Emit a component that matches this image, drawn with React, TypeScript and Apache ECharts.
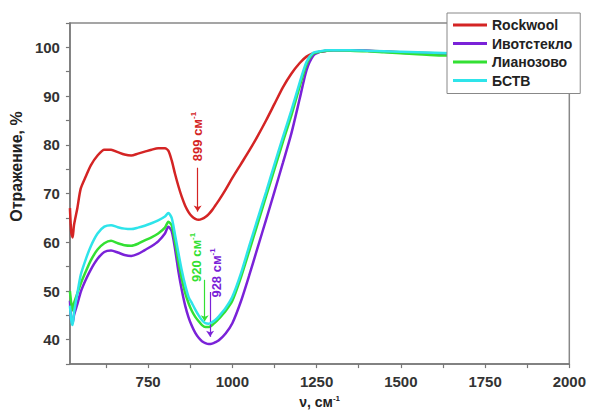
import React, { useEffect, useRef } from "react";
import * as echarts from "echarts";

const wavenumbers = [518, 522, 526, 530, 540, 550, 565, 580, 600, 620, 640, 660, 680, 700, 720, 740, 760, 780, 800, 810, 820, 830, 840, 850, 860, 870, 880, 890, 900, 910, 920, 930, 940, 950, 960, 980, 1000, 1025, 1050, 1075, 1100, 1125, 1150, 1175, 1200, 1220, 1240, 1260, 1280, 1300, 1350, 1400, 1450, 1500, 1550, 1600, 1650, 1700, 1750, 1800, 1850, 1900, 1950, 2000];

const rockwool = [67, 62, 61, 63.5, 67, 71, 73.5, 75.8, 77.8, 79, 79, 78.5, 78, 77.8, 78.2, 78.6, 79, 79.3, 79.3, 78.8, 76.8, 74, 71.5, 69.3, 67.5, 66.2, 65.3, 64.8, 64.6, 64.8, 65.2, 65.8, 66.6, 67.6, 68.6, 70.8, 73.2, 76, 78.8, 81.8, 85, 88.4, 91.8, 94.6, 96.8, 98.1, 98.8, 99.1, 99.3, 99.4, 99.4, 99.3, 99.2, 99.0, 98.9, 98.8, 98.7, 98.6, 98.6, 98.5, 98.5, 98.4, 98.4, 98.4];

const ivotsteklo = [48, 44, 43.5, 45, 47.3, 49.8, 52.3, 54.4, 56.6, 58, 58.3, 57.9, 57.4, 57.2, 57.6, 58.4, 59.2, 60.2, 61.8, 63.2, 62.3, 58.6, 54, 50.2, 47, 44.6, 42.8, 41.4, 40.4, 39.7, 39.3, 39.1, 39.2, 39.5, 39.9, 41.3, 43.4, 47.8, 53.2, 58.9, 64.6, 70.4, 76.3, 82.3, 89.5, 95.3, 98.3, 99.1, 99.3, 99.4, 99.4, 99.3, 99.1, 98.9, 98.8, 98.7, 98.6, 98.5, 98.5, 98.4, 98.4, 98.3, 98.3, 98.3];

const lianozovo = [50, 47.5, 46, 47.5, 49.5, 51.5, 54, 56.3, 58.5, 59.8, 60.3, 59.8, 59.4, 59.3, 59.7, 60.4, 61, 61.8, 63, 64.2, 63.5, 60, 56, 52.5, 49.6, 47.5, 45.9, 44.7, 43.8, 43, 42.6, 42.6, 43, 43.6, 44.3, 45.9, 48, 52.7, 58.2, 63.8, 69.4, 75, 80.6, 86, 92, 96.5, 98.7, 99.1, 99.3, 99.4, 99.3, 99.2, 99.0, 98.8, 98.6, 98.4, 98.3, 98.2, 98.2, 98.1, 98.1, 98.0, 98.0, 98.0];

const bstv = [47, 44, 43, 45.5, 49.5, 53.3, 56.5, 59.2, 61.8, 63.2, 63.5, 63.1, 62.8, 62.7, 63, 63.4, 63.9, 64.5, 65.3, 66, 65, 61.5, 57.8, 54.2, 51.2, 48.8, 47.5, 46.2, 45, 44, 43.4, 43.3, 43.6, 44.1, 44.8, 46.5, 48.8, 53.5, 59.2, 64.8, 70.3, 76, 81.6, 87, 92.8, 97, 98.9, 99.2, 99.4, 99.4, 99.4, 99.3, 99.2, 99.1, 99.0, 98.9, 98.8, 98.7, 98.7, 98.6, 98.6, 98.5, 98.5, 98.5];

const seriesNames = ["Rockwool", "Ивотстекло", "Лианозово", "БСТВ"];
const seriesColors = ["#d42424", "#7a22d8", "#33e033", "#2ee4ea"];

const xLabelValues = [750, 1000, 1250, 1500, 1750, 2000];
const xTickValues = [625, 750, 875, 1000, 1125, 1250, 1375, 1500, 1625, 1750, 1875, 2000];
const yLabelValues = [40, 50, 60, 70, 80, 90, 100];
const yTickValues = [35, 40, 45, 50, 55, 60, 65, 70, 75, 80, 85, 90, 95, 100, 105];

const peakLabels = ["899", "928", "920"];
const annotations = [
  { s: 0, text: peakLabels[0], lx: 896, ly: 81.7, ax: 897, a0: 75.3, a1: 66.3 },
  { s: 1, text: peakLabels[1], lx: 954, ly: 53.7, ax: 934, a0: 49.8, a1: 40.6 },
  { s: 2, text: peakLabels[2], lx: 893, ly: 56.9, ax: 918, a0: 52.3, a1: 43.8 },
];

const allValues = [rockwool, ivotsteklo, lianozovo, bstv];

export default function App() {
  const ref = useRef<HTMLDivElement>(null);
  useEffect(() => {
    if (!ref.current) return;
    const chart = echarts.init(ref.current, null, { renderer: "svg" });
    const font = "'Liberation Sans', Arial, sans-serif";
    const series = seriesNames.map((name, i) => {
      const ann = annotations.filter((a) => a.s === i);
      return {
        name,
        type: "line",
        data: wavenumbers.map((x, j) => [x, allValues[i][j]]),
        showSymbol: false,
        smooth: 0.25,
        lineStyle: { color: seriesColors[i], width: 2.5 },
        itemStyle: { color: seriesColors[i] },
        z: 2 + i,
        markLine: ann.length
          ? {
              silent: true,
              symbol: ["none", "arrow"],
              symbolSize: 6,
              label: { show: false },
              lineStyle: { color: seriesColors[i], width: 1.2, type: "solid" },
              data: ann.map((a) => [{ coord: [a.ax, a.a0] }, { coord: [a.ax, a.a1] }]),
            }
          : undefined,
        markPoint: ann.length
          ? {
              silent: true,
              symbol: "circle",
              symbolSize: 0,
              data: ann.map((a) => ({
                coord: [a.lx, a.ly],
                label: {
                  show: true,
                  position: "inside",
                  rotate: 90,
                  formatter: `{m|${a.text} см}{s|-1}`,
                  rich: {
                    m: { fontSize: 13, fontWeight: "bold", color: seriesColors[i], fontFamily: font, lineHeight: 16 },
                    s: { fontSize: 8, fontWeight: "bold", color: seriesColors[i], fontFamily: font, verticalAlign: "top", lineHeight: 16, padding: [0, 0, 6, 0] },
                  },
                },
              })),
            }
          : undefined,
      };
    });
    chart.setOption({
      animation: false,
      backgroundColor: "#ffffff",
      grid: { left: 64, right: 19, top: 23, bottom: 46, show: true, borderColor: "#888", borderWidth: 1.5, backgroundColor: "transparent" },
      legend: {
        data: seriesNames,
        orient: "vertical",
        left: 447,
        top: 13,
        icon: "rect",
        itemWidth: 34,
        itemHeight: 3,
        itemGap: 2.5,
        padding: [4, 8, 5, 6],
        backgroundColor: "#ffffff",
        borderColor: "#888",
        borderWidth: 1,
        textStyle: { fontSize: 14, fontWeight: "bold", color: "#222", fontFamily: font, lineHeight: 16 },
        z: 10,
      },
      xAxis: {
        type: "value",
        min: 518,
        max: 2000,
        name: "{a|ν, см}{b|-1}",
        nameLocation: "middle",
        nameGap: 24,
        nameTextStyle: {
          rich: {
            a: { fontSize: 14, fontWeight: "bold", color: "#222", fontFamily: font, lineHeight: 16 },
            b: { fontSize: 8, fontWeight: "bold", color: "#222", fontFamily: font, verticalAlign: "top", lineHeight: 16, padding: [0, 0, 6, 0] },
          },
        },
        axisLine: { show: true, lineStyle: { color: "#777", width: 1.5 } },
        axisTick: { show: true, length: 4, customValues: xTickValues, lineStyle: { color: "#777", width: 1.2 } },
        axisLabel: { customValues: xLabelValues, formatter: (v: number) => String(v), margin: 10, fontSize: 15, fontWeight: "bold", color: "#333", fontFamily: font },
        splitLine: { show: false },
      },
      yAxis: {
        type: "value",
        min: 35,
        max: 105,
        name: "Отражение, %",
        nameLocation: "middle",
        nameGap: 36,
        nameTextStyle: { fontSize: 16, fontWeight: "bold", color: "#222", fontFamily: font, padding: [0, 0, 0, 54] },
        axisLine: { show: true, lineStyle: { color: "#777", width: 1.5 } },
        axisTick: { show: true, length: 4, customValues: yTickValues, lineStyle: { color: "#777", width: 1.2 } },
        axisLabel: { customValues: yLabelValues, formatter: (v: number) => String(v), margin: 10, fontSize: 15, fontWeight: "bold", color: "#333", fontFamily: font },
        splitLine: { show: false },
      },
      series,
    });
    return () => chart.dispose();
  }, []);
  return <div ref={ref} style={{ position: "fixed", left: 0, top: 0, width: 589, height: 414 }} />;
}
